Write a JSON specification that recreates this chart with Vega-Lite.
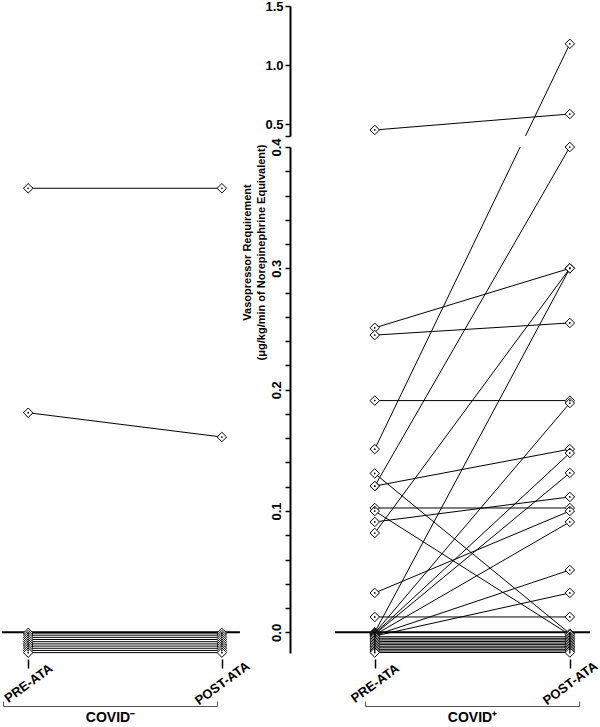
{
  "$schema": "https://vega.github.io/schema/vega-lite/v6.json",
  "width": 600,
  "height": 653,
  "padding": 0,
  "config": {"view": {"stroke": null}, "font": "Liberation Sans"},
  "datasets": {
    "neg": [
      {"id": "A", "t": 0, "v": 0.366}, {"id": "A", "t": 1, "v": 0.366},
      {"id": "B", "t": 0, "v": 0.181}, {"id": "B", "t": 1, "v": 0.161},
      {"id": "z1", "t": 0, "v": -0.0005}, {"id": "z1", "t": 1, "v": -0.0005},
      {"id": "z2", "t": 0, "v": -0.0023}, {"id": "z2", "t": 1, "v": -0.0023},
      {"id": "z3", "t": 0, "v": -0.0041}, {"id": "z3", "t": 1, "v": -0.0041},
      {"id": "z4", "t": 0, "v": -0.0059}, {"id": "z4", "t": 1, "v": -0.0059},
      {"id": "z5", "t": 0, "v": -0.0077}, {"id": "z5", "t": 1, "v": -0.0077},
      {"id": "z6", "t": 0, "v": -0.0095}, {"id": "z6", "t": 1, "v": -0.0095},
      {"id": "z7", "t": 0, "v": -0.0113}, {"id": "z7", "t": 1, "v": -0.0113},
      {"id": "z8", "t": 0, "v": -0.0131}, {"id": "z8", "t": 1, "v": -0.0131},
      {"id": "z9", "t": 0, "v": -0.0149}, {"id": "z9", "t": 1, "v": -0.0149},
      {"id": "z10", "t": 0, "v": -0.0167}, {"id": "z10", "t": 1, "v": -0.0167}
    ],
    "pos": [
      {"id": "p1", "t": 0, "v": 0.451}, {"id": "p1", "t": 1, "v": 0.586},
      {"id": "p2", "t": 0, "v": 0.251}, {"id": "p2", "t": 1, "v": 0.300},
      {"id": "p3", "t": 0, "v": 0.245}, {"id": "p3", "t": 1, "v": 0.255},
      {"id": "p4", "t": 0, "v": 0.191}, {"id": "p4", "t": 1, "v": 0.191},
      {"id": "p5", "t": 0, "v": 0.151}, {"id": "p5", "t": 1, "v": 1.18},
      {"id": "p6", "t": 0, "v": 0.131}, {"id": "p6", "t": 1, "v": -0.001},
      {"id": "p7", "t": 0, "v": 0.1206}, {"id": "p7", "t": 1, "v": 0.400},
      {"id": "p8", "t": 0, "v": 0.1206}, {"id": "p8", "t": 1, "v": 0.151},
      {"id": "p9", "t": 0, "v": 0.1025}, {"id": "p9", "t": 1, "v": 0.1025},
      {"id": "p10", "t": 0, "v": 0.100}, {"id": "p10", "t": 1, "v": -0.002},
      {"id": "p11", "t": 0, "v": 0.091}, {"id": "p11", "t": 1, "v": 0.1116},
      {"id": "p12", "t": 0, "v": 0.0819}, {"id": "p12", "t": 1, "v": 0.300},
      {"id": "p13", "t": 0, "v": 0.0325}, {"id": "p13", "t": 1, "v": 0.100},
      {"id": "p14", "t": 0, "v": 0.0127}, {"id": "p14", "t": 1, "v": 0.0127},
      {"id": "p15", "t": 0, "v": 0.0}, {"id": "p15", "t": 1, "v": 0.300},
      {"id": "p16", "t": 0, "v": -0.0005}, {"id": "p16", "t": 1, "v": 0.189},
      {"id": "p17", "t": 0, "v": -0.001}, {"id": "p17", "t": 1, "v": 0.1478},
      {"id": "p18", "t": 0, "v": -0.0015}, {"id": "p18", "t": 1, "v": 0.1314},
      {"id": "p19", "t": 0, "v": -0.002}, {"id": "p19", "t": 1, "v": 0.091},
      {"id": "p20", "t": 0, "v": -0.0025}, {"id": "p20", "t": 1, "v": 0.0514},
      {"id": "p21", "t": 0, "v": -0.003}, {"id": "p21", "t": 1, "v": 0.0325},
      {"id": "y1", "t": 0, "v": -0.0036}, {"id": "y1", "t": 1, "v": -0.0036},
      {"id": "y2", "t": 0, "v": -0.0049}, {"id": "y2", "t": 1, "v": -0.0049},
      {"id": "y3", "t": 0, "v": -0.0062}, {"id": "y3", "t": 1, "v": -0.0062},
      {"id": "y4", "t": 0, "v": -0.0075}, {"id": "y4", "t": 1, "v": -0.0075},
      {"id": "y5", "t": 0, "v": -0.0088}, {"id": "y5", "t": 1, "v": -0.0088},
      {"id": "y6", "t": 0, "v": -0.0101}, {"id": "y6", "t": 1, "v": -0.0101},
      {"id": "y7", "t": 0, "v": -0.0114}, {"id": "y7", "t": 1, "v": -0.0114},
      {"id": "y8", "t": 0, "v": -0.0127}, {"id": "y8", "t": 1, "v": -0.0127},
      {"id": "y9", "t": 0, "v": -0.014}, {"id": "y9", "t": 1, "v": -0.014},
      {"id": "y10", "t": 0, "v": -0.0153}, {"id": "y10", "t": 1, "v": -0.0153},
      {"id": "y11", "t": 0, "v": -0.0166}, {"id": "y11", "t": 1, "v": -0.0166}
    ]
  },
  "layer": [
    {
      "data": {"values": [{}]},
      "mark": {"type": "rule", "opacity": 0},
      "encoding": {
        "y": {"datum": 0, "type": "quantitative", "scale": {"domain": [-0.017, 0.4], "range": [653, 147], "nice": false, "zero": false},
          "axis": {"orient": "left", "offset": -290, "values": [0, 0.02, 0.04, 0.06, 0.08, 0.1, 0.12, 0.14, 0.16, 0.18, 0.2, 0.22, 0.24, 0.26, 0.28, 0.3, 0.32, 0.34, 0.36, 0.38, 0.4],
            "labelExpr": "abs(datum.value * 10 - round(datum.value * 10)) < 0.001 ? format(datum.value, '.1f') : ''",
            "domain": true, "domainColor": "black", "domainWidth": 2, "tickColor": "black", "tickWidth": 1.5, "tickSize": 5,
            "labelAngle": -90, "labelAlign": "center", "labelBaseline": "bottom", "labelPadding": 2, "labelFontSize": 13, "labelFontWeight": "bold", "labelColor": "black", "labelFlush": false, "labelOverlap": false, "grid": false,
            "title": ["Vasopressor Requirement", "(μg/kg/min of Norepinephrine Equivalent)"],
            "titleFontSize": 11, "titleFontWeight": "bold", "titleColor": "black", "titleAngle": -90, "titleY": 252, "titleAlign": "center", "titleBaseline": "bottom", "titlePadding": 4, "titleLineHeight": 14}}
      }
    },
    {
      "data": {"values": [{}]},
      "mark": {"type": "rule", "opacity": 0},
      "encoding": {
        "y": {"datum": 1, "type": "quantitative", "scale": {"domain": [0.4, 1.5], "range": [136, 6], "nice": false, "zero": false},
          "axis": {"orient": "left", "offset": -290, "values": [0.4, 0.5, 1, 1.5],
            "labelExpr": "datum.value < 0.45 ? '' : format(datum.value, '.1f')",
            "domain": true, "domainColor": "black", "domainWidth": 2, "tickColor": "black", "tickWidth": 1.5, "tickSize": 5,
            "labelAngle": 0, "labelAlign": "right", "labelBaseline": "middle", "labelPadding": 2, "labelFontSize": 13, "labelFontWeight": "bold", "labelColor": "black", "labelFlush": false, "labelOverlap": false, "grid": false, "title": null}}
      }
    },
    {
      "data": {"values": [{}]},
      "mark": {"type": "rule", "color": "black", "strokeWidth": 2},
      "encoding": {
        "x": {"datum": -0.135, "type": "quantitative", "scale": {"domain": [-0.13, 0.975], "range": [3, 217], "nice": false, "zero": false},
          "axis": {"orient": "bottom", "values": [-0.13, 0.975], "domain": true, "domainColor": "#555", "domainWidth": 1, "ticks": true, "tickSize": -5, "tickColor": "#555", "tickWidth": 1, "labels": false, "offset": 53, "grid": false, "title": "COVID⁻", "titleFontSize": 14, "titleFontWeight": "bold", "titleColor": "black", "titlePadding": 4}},
        "x2": {"datum": 1.0935},
        "y": {"datum": 0, "type": "quantitative", "scale": {"domain": [-0.017, 0.4, 0.4001, 1.5], "range": [653, 147, 136, 6], "nice": false, "zero": false}, "axis": null}
      }
    },
    {
      "data": {"name": "neg"},
      "mark": {"type": "line", "color": "black", "strokeWidth": 1},
      "encoding": {
        "x": {"field": "t", "type": "quantitative", "scale": {"domain": [-0.13, 1.011], "range": [3, 224], "nice": false, "zero": false},
          "axis": {"orient": "bottom", "values": [0, 1], "labelExpr": "datum.value < 0.5 ? 'PRE-ATA' : 'POST-ATA'", "domain": false, "ticks": true, "tickSize": 9, "tickWidth": 1.5, "tickColor": "black", "offset": 6, "labelAngle": -36, "labelAlign": "center", "labelBaseline": "middle", "labelPadding": 15, "labelFontSize": 13, "labelFontWeight": "bold", "labelColor": "black", "labelFlush": false, "labelOverlap": false, "grid": false, "title": null}},
        "y": {"field": "v", "type": "quantitative", "scale": {"domain": [-0.017, 0.4, 0.4001, 1.5], "range": [653, 147, 136, 6], "nice": false, "zero": false}, "axis": null},
        "detail": {"field": "id"}
      }
    },
    {
      "data": {"name": "neg"},
      "mark": {"type": "point", "shape": "diamond", "filled": true, "fill": "white", "stroke": "black", "strokeWidth": 1, "size": 90, "opacity": 1},
      "encoding": {
        "x": {"field": "t", "type": "quantitative", "scale": {"domain": [-0.13, 1.011], "range": [3, 224], "nice": false, "zero": false}, "axis": null},
        "y": {"field": "v", "type": "quantitative", "scale": {"domain": [-0.017, 0.4, 0.4001, 1.5], "range": [653, 147, 136, 6], "nice": false, "zero": false}, "axis": null}
      }
    },
    {
      "data": {"name": "neg"},
      "mark": {"type": "point", "shape": "circle", "filled": true, "color": "black", "size": 3, "opacity": 1},
      "encoding": {
        "x": {"field": "t", "type": "quantitative", "scale": {"domain": [-0.13, 1.011], "range": [3, 224], "nice": false, "zero": false}, "axis": null},
        "y": {"field": "v", "type": "quantitative", "scale": {"domain": [-0.017, 0.4, 0.4001, 1.5], "range": [653, 147, 136, 6], "nice": false, "zero": false}, "axis": null}
      }
    },
    {
      "data": {"values": [{}]},
      "mark": {"type": "rule", "color": "black", "strokeWidth": 2},
      "encoding": {
        "x": {"datum": -0.204, "type": "quantitative", "scale": {"domain": [-0.05, 1.047], "range": [365, 579], "nice": false, "zero": false},
          "axis": {"orient": "bottom", "values": [-0.05, 1.047], "domain": true, "domainColor": "#555", "domainWidth": 1, "ticks": true, "tickSize": -5, "tickColor": "#555", "tickWidth": 1, "labels": false, "offset": 53, "grid": false, "title": "COVID⁺", "titleFontSize": 14, "titleFontWeight": "bold", "titleColor": "black", "titlePadding": 4}},
        "x2": {"datum": 1.103},
        "y": {"datum": 0, "type": "quantitative", "scale": {"domain": [-0.017, 0.4, 0.4001, 1.5], "range": [653, 147, 136, 6], "nice": false, "zero": false}, "axis": null}
      }
    },
    {
      "data": {"name": "pos"},
      "mark": {"type": "line", "color": "black", "strokeWidth": 1},
      "encoding": {
        "x": {"field": "t", "type": "quantitative", "scale": {"domain": [-0.05, 1.047], "range": [365, 579], "nice": false, "zero": false},
          "axis": {"orient": "bottom", "values": [0, 1], "labelExpr": "datum.value < 0.5 ? 'PRE-ATA' : 'POST-ATA'", "domain": false, "ticks": true, "tickSize": 9, "tickWidth": 1.5, "tickColor": "black", "offset": 6, "labelAngle": -36, "labelAlign": "center", "labelBaseline": "middle", "labelPadding": 15, "labelFontSize": 13, "labelFontWeight": "bold", "labelColor": "black", "labelFlush": false, "labelOverlap": false, "grid": false, "title": null}},
        "y": {"field": "v", "type": "quantitative", "scale": {"domain": [-0.017, 0.4, 0.4001, 1.5], "range": [653, 147, 136, 6], "nice": false, "zero": false}, "axis": null},
        "detail": {"field": "id"}
      }
    },
    {
      "data": {"values": [{}]},
      "mark": {"type": "rect", "color": "white"},
      "encoding": {
        "x": {"datum": 0.3, "type": "quantitative", "scale": {"domain": [-0.05, 1.047], "range": [365, 579], "nice": false, "zero": false}, "axis": null},
        "x2": {"datum": 0.97},
        "y": {"datum": 0.4, "type": "quantitative", "scale": {"domain": [-0.017, 0.4, 0.4001, 1.5], "range": [653, 147, 136, 6], "nice": false, "zero": false}, "axis": null},
        "y2": {"datum": 0.4001}
      }
    },
    {
      "data": {"name": "pos"},
      "mark": {"type": "point", "shape": "diamond", "filled": true, "fill": "white", "stroke": "black", "strokeWidth": 1, "size": 90, "opacity": 1},
      "encoding": {
        "x": {"field": "t", "type": "quantitative", "scale": {"domain": [-0.05, 1.047], "range": [365, 579], "nice": false, "zero": false}, "axis": null},
        "y": {"field": "v", "type": "quantitative", "scale": {"domain": [-0.017, 0.4, 0.4001, 1.5], "range": [653, 147, 136, 6], "nice": false, "zero": false}, "axis": null}
      }
    },
    {
      "data": {"name": "pos"},
      "mark": {"type": "point", "shape": "circle", "filled": true, "color": "black", "size": 3, "opacity": 1},
      "encoding": {
        "x": {"field": "t", "type": "quantitative", "scale": {"domain": [-0.05, 1.047], "range": [365, 579], "nice": false, "zero": false}, "axis": null},
        "y": {"field": "v", "type": "quantitative", "scale": {"domain": [-0.017, 0.4, 0.4001, 1.5], "range": [653, 147, 136, 6], "nice": false, "zero": false}, "axis": null}
      }
    }
  ],
  "resolve": {"scale": {"x": "independent", "y": "independent"}, "axis": {"x": "independent", "y": "independent"}}
}
